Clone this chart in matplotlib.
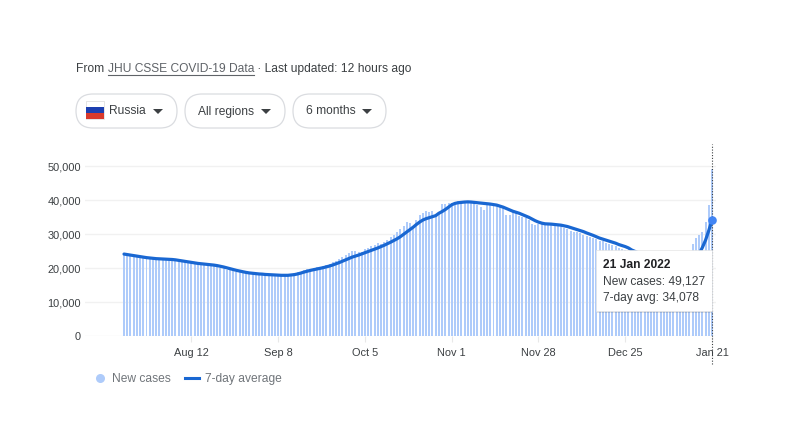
import matplotlib
matplotlib.use("Agg")
import matplotlib.pyplot as plt
from matplotlib.patches import FancyBboxPatch, Polygon, Rectangle
from matplotlib.lines import Line2D

plt.rcParams['font.family'] = ['Liberation Sans', 'DejaVu Sans']

# Daily values, 22 Jul 2021 to 21 Jan 2022
new_cases = [
    23800,23600,23700,23300,23200,23100,23000,
    22700,22800,22600,22500,22400,22300,22500,
    22400,22300,22200,22000,21800,21700,21600,
    21500,21300,21200,20900,21000,20800,20700,
    20600,20400,20100,19900,19500,19300,19100,
    18900,18800,18600,18400,18300,18200,18100,
    18000,18000,17900,17800,17900,17700,17800,
    17700,17800,17700,18200,18500,18700,18900,
    19300,19600,19800,20000,20200,20100,20500,
    20900,21300,21700,22200,22600,23300,23800,
    24300,24900,25100,24700,24700,25500,25900,
    26400,26900,27400,27000,27600,28200,29000,
    29800,30700,31500,32400,33400,33200,32500,
    34000,35500,36200,36800,36600,36900,35800,
    36400,38800,38900,39200,39000,39500,39700,
    39200,39500,39600,39800,39300,38400,37800,
    37000,38700,38900,38500,38700,38300,38000,
    35500,35600,36700,36200,35400,35000,34600,
    34000,33000,32700,33000,33000,32800,32700,
    32800,32500,32500,32300,31900,31500,31000,
    30700,30500,30200,29800,29400,29100,28800,
    28400,28000,27800,27500,27200,26800,26400,
    26000,25600,25200,24800,24500,24200,23800,
    23300,22800,22200,21500,20700,19800,19000,
    18300,17800,17200,16800,16500,16800,17500,
    19000,21000,27000,28800,29700,30600,33500,
    38500,49127,
]
avg_7day = [
    24100,23950,23800,23650,23500,23350,23200,
    23050,22950,22850,22750,22700,22650,22600,
    22550,22500,22400,22250,22100,21950,21800,
    21650,21500,21350,21250,21150,21050,20950,
    20850,20700,20500,20300,20050,19800,19550,
    19300,19100,18900,18700,18550,18450,18350,
    18250,18200,18100,18050,18000,17950,17900,
    17850,17850,17850,17950,18050,18250,18500,
    18800,19050,19300,19500,19700,19900,20100,
    20350,20600,20900,21250,21600,22000,22400,
    22800,23200,23500,23800,24150,24500,24850,
    25200,25550,25900,26300,26700,27150,27600,
    28100,28600,29200,29900,30600,31300,32000,
    32800,33500,34100,34500,34800,35100,35400,
    36100,36600,37200,37900,38600,39000,39200,
    39300,39400,39450,39400,39300,39200,39100,
    39000,38900,38800,38650,38500,38200,37900,
    37500,37100,36700,36400,36100,35700,35300,
    34900,34400,33900,33500,33200,33000,32950,
    32900,32800,32700,32600,32400,32200,31900,
    31600,31300,31000,30700,30300,29950,29600,
    29200,28800,28500,28200,27900,27600,27300,
    26900,26600,26300,25900,25300,24900,24500,
    24100,23500,22800,22000,21200,20500,19900,
    19300,18700,18200,17800,17500,17300,17400,
    19500,20300,21400,22700,24200,26000,28200,
    31000,34078,
]
tick_days = [21, 48, 75, 102, 129, 156, 183]
tick_labels = ['Aug 12', 'Sep 8', 'Oct 5', 'Nov 1', 'Nov 28', 'Dec 25', 'Jan 21']
y_ticks = [0, 10000, 20000, 30000, 40000, 50000]
y_labels = ['0', '10,000', '20,000', '30,000', '40,000', '50,000']
buttons = ['Russia', 'All regions', '6 months']

W, H = 807, 442
BLUE = '#1967d2'
BAR = '#aecbfa'
days = list(range(len(new_cases)))

def fs(px):
    return px * 72 / 100

fig = plt.figure(figsize=(W / 100, H / 100), dpi=100, facecolor='white')
ax = fig.add_axes([85 / W, (H - 336) / H, 631 / W, 186 / H])
ax.set_xlim(-12.14, 184.25)
ax.set_ylim(0, 54706)
for s in ax.spines.values():
    s.set_visible(False)
ax.bar(days, new_cases, width=0.62, color=BAR, linewidth=0, zorder=2)
ax.plot(days, avg_7day, color=BLUE, lw=2.3, zorder=3, solid_capstyle='round')
ax.axvline(days[-1], ymin=-0.15, ymax=1.032, color='#3c4043', lw=0.8,
           ls=(0, (1, 1.5)), clip_on=False, zorder=4)
ax.plot(days[-1], avg_7day[-1], 'o', ms=6.2, color='#4285f4', mew=0, zorder=5)
ax.set_yticks(y_ticks, y_labels)
ax.set_xticks(tick_days, tick_labels)
ax.grid(axis='y', color='#f1f1f1', lw=1, zorder=0)
ax.set_axisbelow(True)
ax.tick_params(axis='y', length=0, pad=3, labelsize=fs(11), labelcolor='#3c4043')
ax.tick_params(axis='x', length=4, width=0.8, color='#e8e8e8', pad=5,
               labelsize=fs(11), labelcolor='#3c4043')

# Legend
handles = [
    Line2D([], [], ls='', marker='o', ms=6.5, color=BAR, mew=0),
    Line2D([], [], color=BLUE, lw=2.2),
]
leg = fig.legend(handles, ['New cases', '7-day average'], ncol=2, frameon=False,
                 loc='center left', bbox_to_anchor=(93 / W, (H - 379) / H),
                 prop={'size': fs(12)}, labelcolor='#70757a',
                 handlelength=1.1, handletextpad=0.5, columnspacing=1.2,
                 borderpad=0, borderaxespad=0)

# Page furniture drawn in pixel coordinates
ov = fig.add_axes([0, 0, 1, 1], zorder=10)
ov.set_xlim(0, W)
ov.set_ylim(H, 0)
ov.axis('off')
ov.patch.set_alpha(0)

hdr = dict(fontsize=fs(12), va='center', color='#3c4043')
t1 = ov.text(76, 69, 'From ', **hdr)
ov.text(107.5, 69, 'JHU CSSE COVID-19 Data', fontsize=fs(12), va='center', color='#5f6368')
ov.plot([107.5, 253.5], [75, 75], color='#5f6368', lw=0.8)
ov.text(254, 69, ' · Last updated: 12 hours ago', **hdr)

pills = [(76, 177), (185, 285), (293, 386)]
text_x = [109, 198, 306]
caret_x = [158, 266, 367]
for (x0, x1), tx, cx, label in zip(pills, text_x, caret_x, buttons):
    ov.add_patch(FancyBboxPatch((x0 + 17, 94 + 17), x1 - x0 - 34, 0.01,
                                boxstyle='round,pad=17', fc='white', ec='#dadce0', lw=0.9))
    ov.text(tx, 111.5, label, fontsize=fs(12), va='center', color='#3c4043')
    ov.add_patch(Polygon([(cx - 5, 109), (cx + 5, 109), (cx, 114)], fc='#3c4043', ec='none'))

# Flag
ov.add_patch(Rectangle((86, 101), 18, 18, fc='white', ec='#e0e0e0', lw=0.6))
ov.add_patch(Rectangle((86, 107), 18, 6.3, fc='#1c3fb0', ec='none'))
ov.add_patch(Rectangle((86, 113.3), 18, 5.7, fc='#d8392b', ec='none'))

# Tooltip
ov.add_patch(Rectangle((597, 252), 116, 61, fc='#000000', alpha=0.12, ec='none'))
ov.add_patch(Rectangle((596, 250), 116, 61, fc='white', ec='#e4e4e4', lw=0.5))
ov.text(603, 265, '21 Jan 2022', fontsize=fs(12), fontweight='bold', va='center', color='#202124')
ov.text(603, 282, 'New cases: 49,127', fontsize=fs(12), va='center', color='#3c4043')
ov.text(603, 298, '7-day avg: 34,078', fontsize=fs(12), va='center', color='#3c4043')

fig.savefig('out.png', dpi=100, facecolor='white')
